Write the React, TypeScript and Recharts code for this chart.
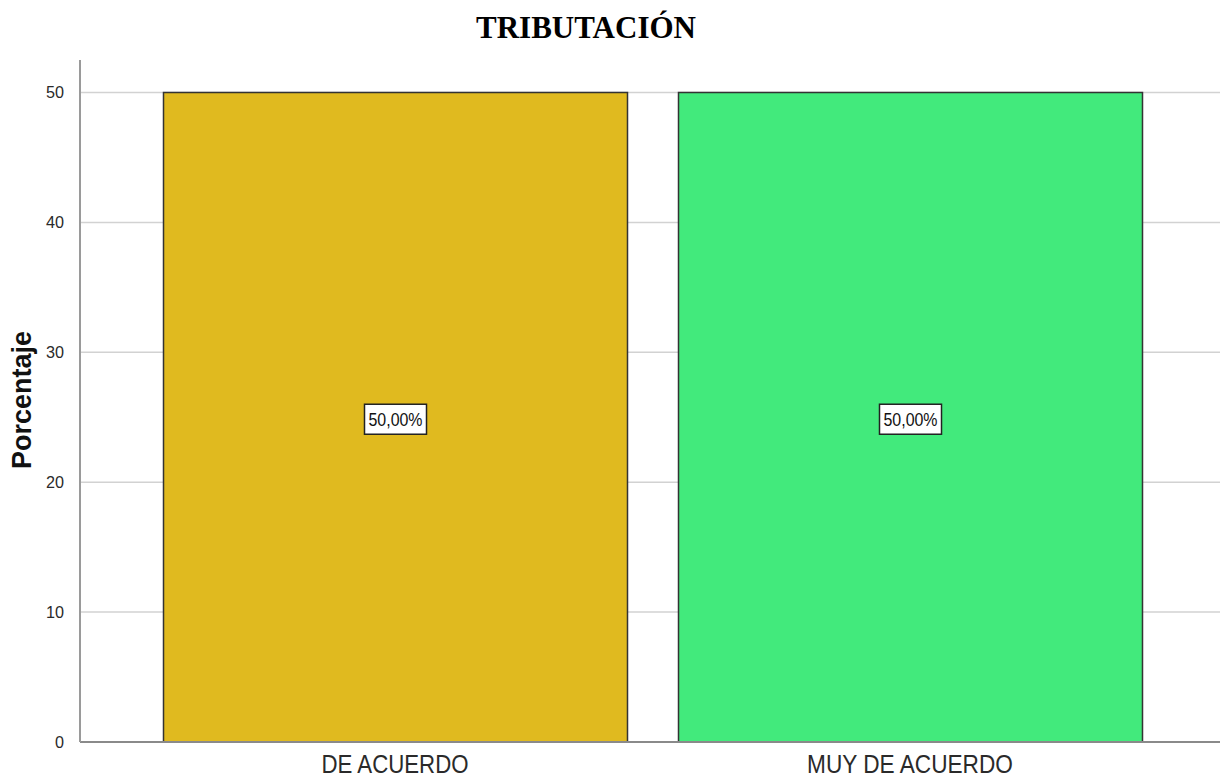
import React from 'react';
import { BarChart, Bar, XAxis, YAxis, CartesianGrid, Cell, LabelList } from 'recharts';

const categories = ['DE ACUERDO', 'MUY DE ACUERDO'];
const percentages = [50, 50];
const barColors = ['#E0BA1F', '#42EA7C'];
const yTicks = [0, 10, 20, 30, 40, 50];
const gridValues = [10, 20, 30, 40, 50];
const title = 'TRIBUTACIÓN';
const yLabel = 'Porcentaje';

const data = categories.map((c, i) => ({ name: c, value: percentages[i] }));

const SANS = '"Liberation Sans", Arial, sans-serif';

const XTick = (props: any) => {
  const { x, payload } = props;
  const s = String(payload.value);
  return (
    <text
      x={x}
      y={773}
      textAnchor="middle"
      fontFamily={SANS}
      fontSize={25}
      fill="#2a2a2a"
      textLength={s.length * 14.7}
      lengthAdjust="spacingAndGlyphs"
    >
      {s}
    </text>
  );
};

const YTick = (props: any) => {
  const { x, y, payload } = props;
  const s = String(payload.value);
  return (
    <text
      x={x - 8 - s.length * 9}
      y={y}
      dy={6}
      textAnchor="start"
      fontFamily={SANS}
      fontSize={16}
      fill="#2a2a2a"
      textLength={s.length * 9}
      lengthAdjust="spacingAndGlyphs"
    >
      {s}
    </text>
  );
};

const ValueLabel = (props: any) => {
  const { x, y, width, height, value } = props;
  const cx = x + width / 2;
  const cy = y + height / 2;
  const txt = `${Number(value).toFixed(2).replace('.', ',')}%`;
  const w = 62;
  const h = 30;
  return (
    <g>
      <rect x={cx - w / 2} y={cy - h / 2 + 2} width={w} height={h} fill="#ffffff" stroke="#222" strokeWidth={1.5} />
      <text
        x={cx - 27}
        y={cy + 2}
        dy={7}
        textAnchor="start"
        fontFamily={SANS}
        fontSize={18}
        fill="#111"
        textLength={54}
        lengthAdjust="spacingAndGlyphs"
      >
        {txt}
      </text>
    </g>
  );
};

const YLabel = () => (
  <text
    x={22}
    y={400}
    transform="rotate(-90, 22, 400)"
    textAnchor="middle"
    dominantBaseline="central"
    fontFamily={SANS}
    fontWeight="bold"
    fontSize={27}
    fill="#111"
  >
    {yLabel}
  </text>
);

export default function App() {
  return (
    <div style={{ position: 'absolute', left: 0, top: 0, width: 1220, height: 780, background: '#fff' }}>
      <div
        style={{
          position: 'absolute',
          left: 0,
          top: 10,
          width: 1172,
          textAlign: 'center',
          fontFamily: '"Liberation Serif", "Times New Roman", serif',
          fontWeight: 'bold',
          fontSize: 31,
          color: '#000',
          lineHeight: '36px',
        }}
      >
        {title}
      </div>
      <BarChart width={1220} height={780} data={data} margin={{ top: 60, right: 0, bottom: 0, left: 0 }}>
        <CartesianGrid
          horizontal={true}
          vertical={false}
          horizontalValues={gridValues}
          stroke="#d2d2d2"
          strokeWidth={1.5}
        />
        <XAxis
          dataKey="name"
          height={38}
          padding={{ left: 57.5, right: 52.5 }}
          axisLine={{ stroke: '#8a8a8a', strokeWidth: 2 }}
          tickLine={false}
          tick={<XTick />}
          interval={0}
        />
        <YAxis
          width={80}
          domain={[0, 52.5]}
          ticks={yTicks}
          allowDataOverflow
          axisLine={{ stroke: '#9a9a9a', strokeWidth: 2 }}
          tickLine={false}
          tick={<YTick />}
          label={<YLabel />}
        />
        <Bar dataKey="value" barSize={464} stroke="#333" strokeWidth={1.5} isAnimationActive={false}>
          {data.map((d, i) => (
            <Cell key={d.name} fill={barColors[i]} />
          ))}
          <LabelList dataKey="value" content={<ValueLabel />} />
        </Bar>
      </BarChart>
    </div>
  );
}
